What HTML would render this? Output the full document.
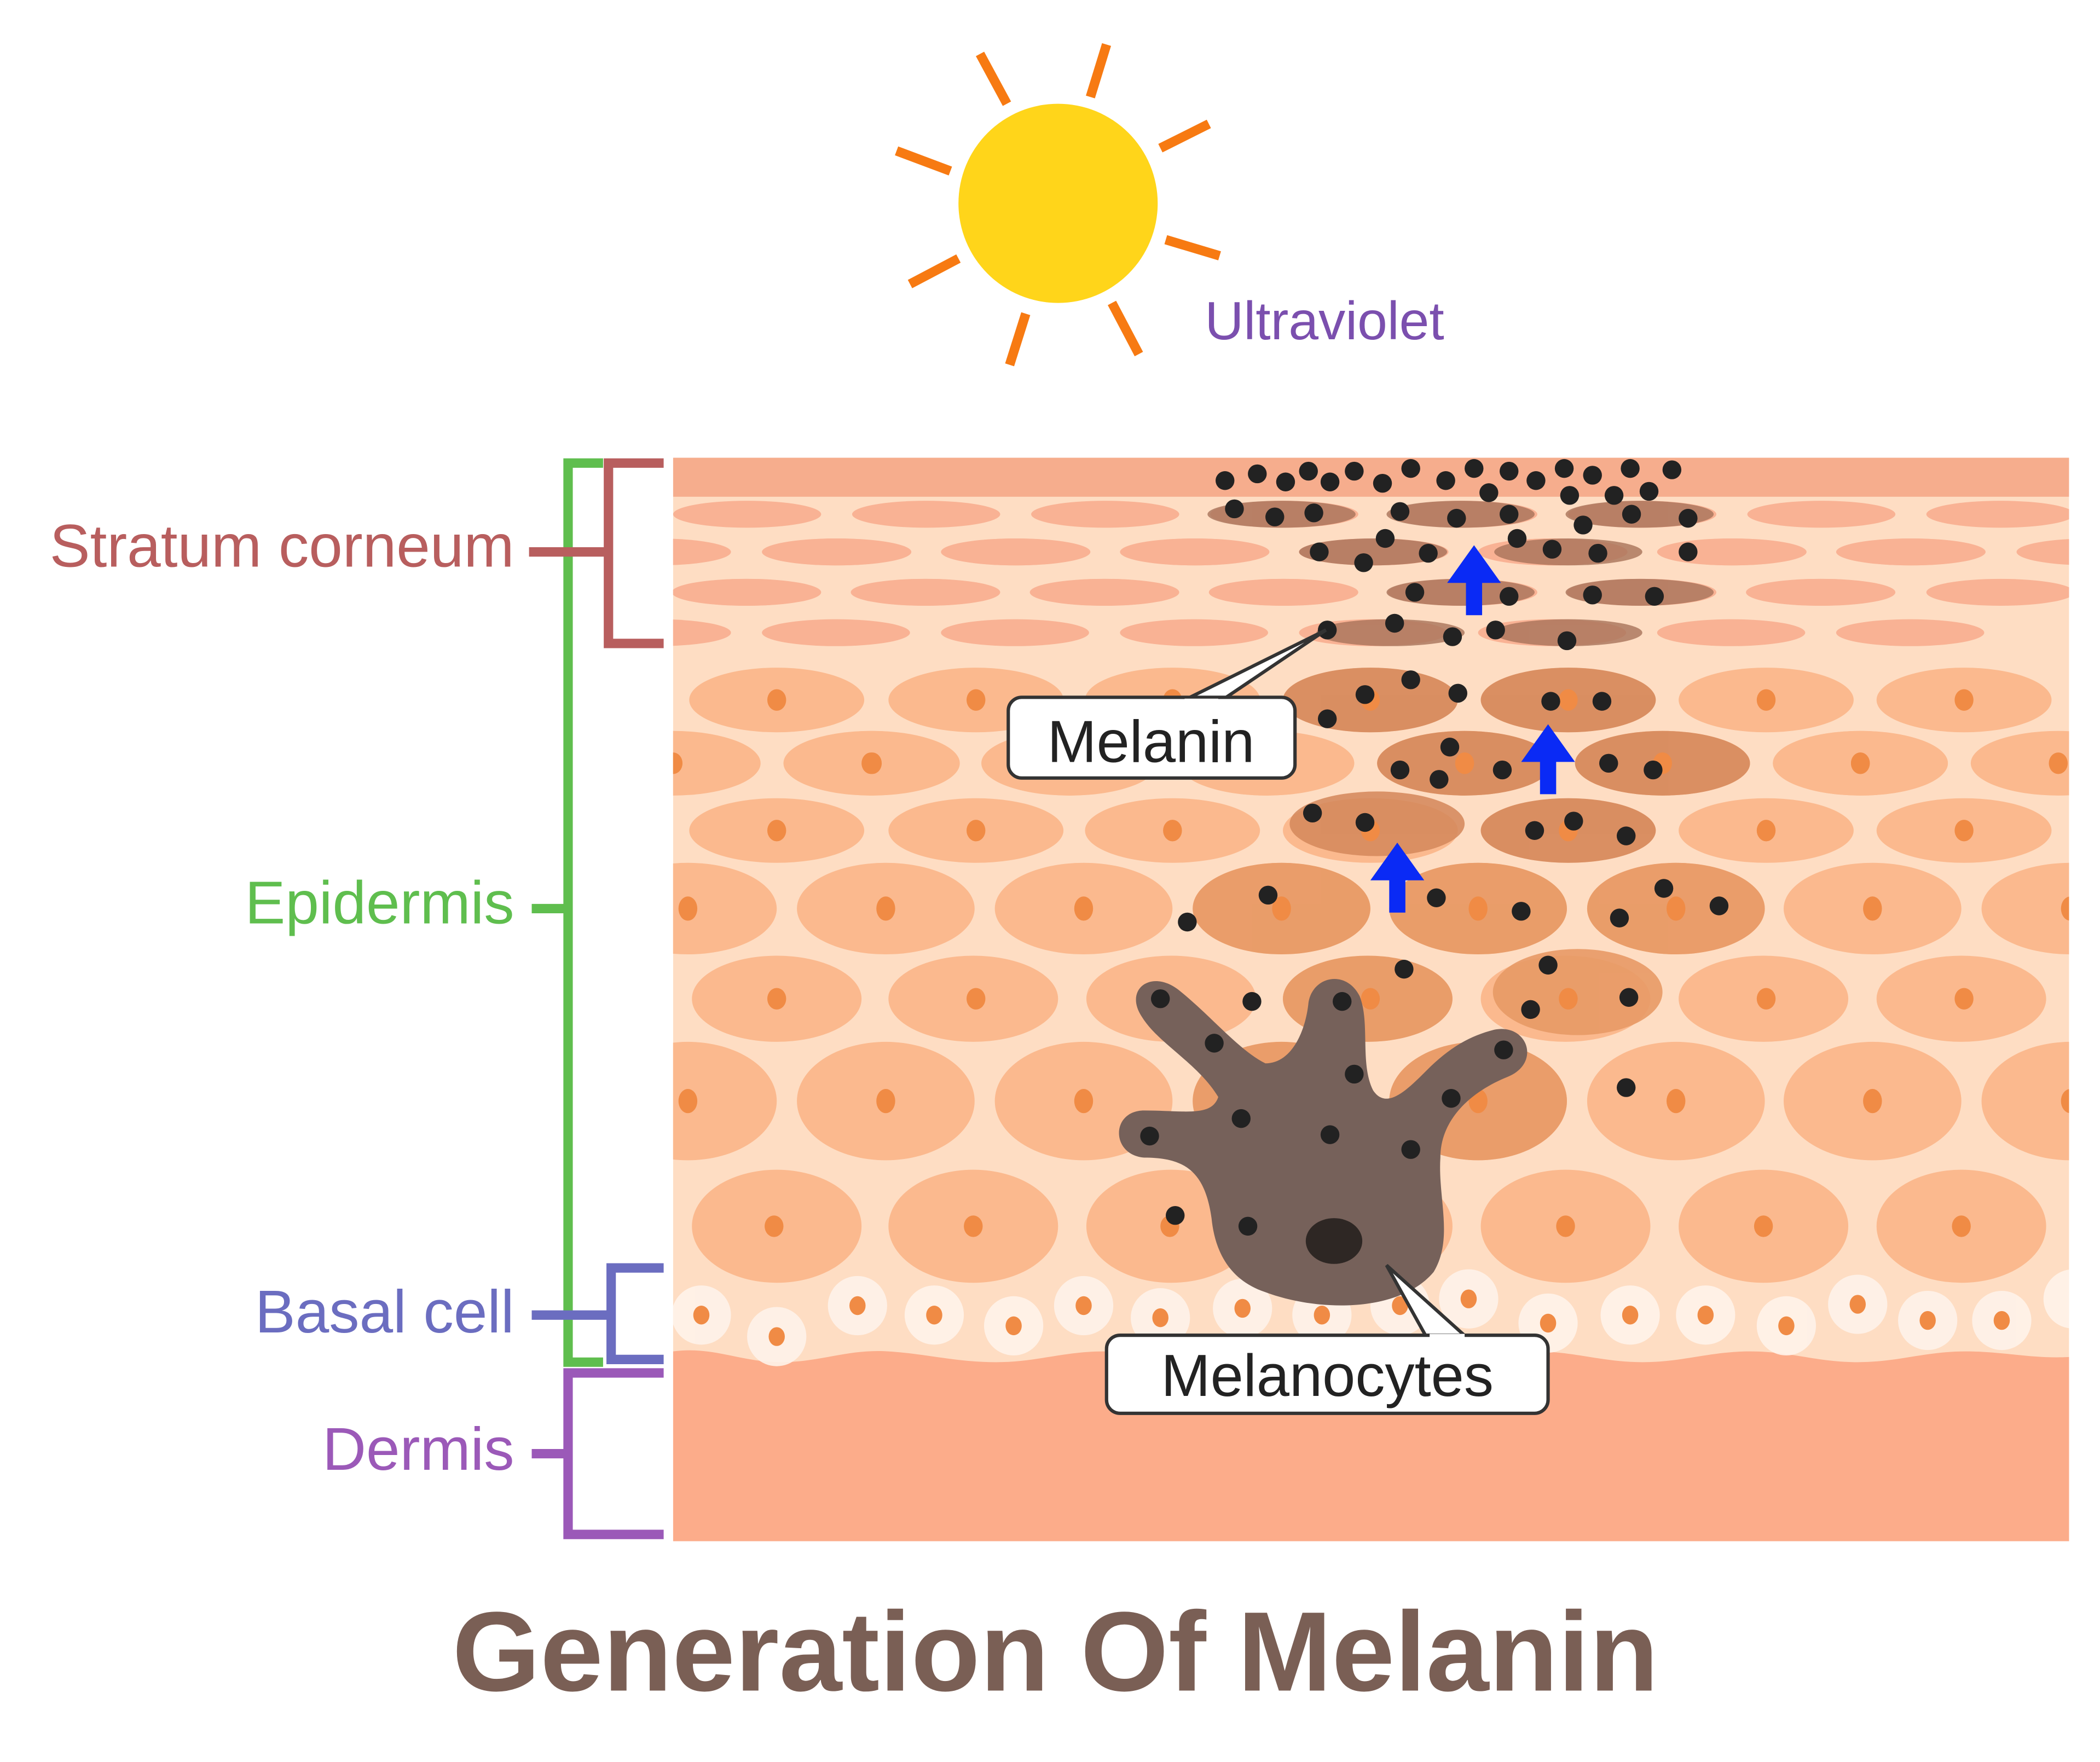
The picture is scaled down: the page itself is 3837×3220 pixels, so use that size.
<!DOCTYPE html>
<html><head><meta charset="utf-8"><style>html,body{margin:0;padding:0;background:#fff}svg{display:block}</style></head>
<body>
<svg width="3837" height="3220" viewBox="0 0 1560 1309" xmlns="http://www.w3.org/2000/svg" font-family="Liberation Sans, sans-serif">
<rect width="1560" height="1309" fill="#fff"/>
<!-- sun -->
<g stroke="#F77A12" stroke-width="7">
<line x1="728" y1="40" x2="748" y2="77"/><line x1="822" y1="33" x2="810" y2="72"/>
<line x1="862" y1="110" x2="898" y2="92"/><line x1="866" y1="178" x2="906" y2="190"/>
<line x1="826" y1="225" x2="846" y2="263"/><line x1="762" y1="233" x2="750" y2="271"/>
<line x1="712" y1="192" x2="676" y2="211"/><line x1="666" y1="112" x2="706" y2="127"/>
</g>
<circle cx="786" cy="151" r="74" fill="#FFD51A"/>
<text x="895" y="252" font-size="40" fill="#7B4FAE">Ultraviolet</text>
<!-- skin -->
<clipPath id="c"><rect x="500" y="340" width="1037" height="805"/></clipPath>
<g clip-path="url(#c)">
<rect x="500" y="340" width="1037" height="805" fill="#FEDDC3"/>
<rect x="500" y="340" width="1037" height="29" fill="#F6AD8D"/>
<g fill="#F9B294">
<g id="sr1"><ellipse cx="555" cy="382" rx="55" ry="10"/><ellipse cx="688" cy="382" rx="55" ry="10"/><ellipse cx="821" cy="382" rx="55" ry="10"/><ellipse cx="954" cy="382" rx="55" ry="10"/><ellipse cx="1087" cy="382" rx="55" ry="10"/><ellipse cx="1220" cy="382" rx="55" ry="10"/><ellipse cx="1353" cy="382" rx="55" ry="10"/><ellipse cx="1486" cy="382" rx="55" ry="10"/></g>
<use href="#sr1" x="-67" y="28"/><use href="#sr1" x="0" y="58"/><use href="#sr1" x="-67" y="88"/><use href="#sr1" x="67" y="28"/><use href="#sr1" x="-134" y="58"/>
</g>
<g fill="#A8735A" opacity="0.8">
<ellipse cx="952" cy="382" rx="55" ry="10"/><ellipse cx="1085" cy="382" rx="55" ry="10"/><ellipse cx="1218" cy="382" rx="55" ry="10"/>
<ellipse cx="1020" cy="410" rx="55" ry="10"/><ellipse cx="1165" cy="410" rx="55" ry="10"/>
<ellipse cx="1085" cy="440" rx="55" ry="10"/><ellipse cx="1218" cy="440" rx="55" ry="10"/>
<ellipse cx="1033" cy="470" rx="55" ry="10"/><ellipse cx="1165" cy="470" rx="55" ry="10"/>
</g>
<g fill="#FBB98E">
<g id="r1"><ellipse cx="577" cy="520" rx="65" ry="24"/><ellipse cx="725" cy="520" rx="65" ry="24"/><ellipse cx="871" cy="520" rx="65" ry="24"/><ellipse cx="1018" cy="520" rx="65" ry="24"/><ellipse cx="1165" cy="520" rx="65" ry="24"/><ellipse cx="1312" cy="520" rx="65" ry="24"/><ellipse cx="1459" cy="520" rx="65" ry="24"/></g>
<use href="#r1" x="-77" y="47"/><use href="#r1" x="70" y="47"/><use href="#r1" x="0" y="97"/>
<ellipse cx="511" cy="675" rx="66" ry="34"/><ellipse cx="658" cy="675" rx="66" ry="34"/><ellipse cx="805" cy="675" rx="66" ry="34"/><ellipse cx="952" cy="675" rx="66" ry="34"/><ellipse cx="1098" cy="675" rx="66" ry="34"/><ellipse cx="1245" cy="675" rx="66" ry="34"/><ellipse cx="1391" cy="675" rx="66" ry="34"/><ellipse cx="1538" cy="675" rx="66" ry="34"/>
<ellipse cx="577" cy="742" rx="63" ry="32"/><ellipse cx="723" cy="742" rx="63" ry="32"/><ellipse cx="870" cy="742" rx="63" ry="32"/><ellipse cx="1016" cy="742" rx="63" ry="32"/><ellipse cx="1163" cy="742" rx="63" ry="32"/><ellipse cx="1310" cy="742" rx="63" ry="32"/><ellipse cx="1457" cy="742" rx="63" ry="32"/>
<ellipse cx="511" cy="818" rx="66" ry="44"/><ellipse cx="658" cy="818" rx="66" ry="44"/><ellipse cx="805" cy="818" rx="66" ry="44"/><ellipse cx="952" cy="818" rx="66" ry="44"/><ellipse cx="1098" cy="818" rx="66" ry="44"/><ellipse cx="1245" cy="818" rx="66" ry="44"/><ellipse cx="1391" cy="818" rx="66" ry="44"/><ellipse cx="1538" cy="818" rx="66" ry="44"/>
<ellipse cx="577" cy="911" rx="63" ry="42"/><ellipse cx="723" cy="911" rx="63" ry="42"/><ellipse cx="870" cy="911" rx="63" ry="42"/><ellipse cx="1016" cy="911" rx="63" ry="42"/><ellipse cx="1163" cy="911" rx="63" ry="42"/><ellipse cx="1310" cy="911" rx="63" ry="42"/><ellipse cx="1457" cy="911" rx="63" ry="42"/>
</g>
<g fill="#D4875A" opacity="0.85">
<ellipse cx="1018" cy="520" rx="65" ry="24"/><ellipse cx="1165" cy="520" rx="65" ry="24"/>
<ellipse cx="1088" cy="567" rx="65" ry="24"/><ellipse cx="1235" cy="567" rx="65" ry="24"/>
<ellipse cx="1023" cy="612" rx="65" ry="24"/><ellipse cx="1165" cy="617" rx="65" ry="24"/>
</g>
<g fill="#E89A66" opacity="0.9">
<ellipse cx="952" cy="675" rx="66" ry="34"/><ellipse cx="1098" cy="675" rx="66" ry="34"/><ellipse cx="1245" cy="675" rx="66" ry="34"/>
<ellipse cx="1016" cy="742" rx="63" ry="32"/><ellipse cx="1172" cy="737" rx="63" ry="32"/>
<ellipse cx="952" cy="818" rx="66" ry="44"/><ellipse cx="1098" cy="818" rx="66" ry="44"/>
</g>
<g fill="#F08B45">
<g id="n1"><ellipse cx="577" cy="520" rx="7" ry="8"/><ellipse cx="725" cy="520" rx="7" ry="8"/><ellipse cx="871" cy="520" rx="7" ry="8"/><ellipse cx="1018" cy="520" rx="7" ry="8"/><ellipse cx="1165" cy="520" rx="7" ry="8"/><ellipse cx="1312" cy="520" rx="7" ry="8"/><ellipse cx="1459" cy="520" rx="7" ry="8"/></g>
<use href="#n1" x="-77" y="47"/><use href="#n1" x="70" y="47"/><use href="#n1" x="0" y="97"/>
<g id="n4"><ellipse cx="511" cy="675" rx="7" ry="9"/><ellipse cx="658" cy="675" rx="7" ry="9"/><ellipse cx="805" cy="675" rx="7" ry="9"/><ellipse cx="952" cy="675" rx="7" ry="9"/><ellipse cx="1098" cy="675" rx="7" ry="9"/><ellipse cx="1245" cy="675" rx="7" ry="9"/><ellipse cx="1391" cy="675" rx="7" ry="9"/><ellipse cx="1538" cy="675" rx="7" ry="9"/></g>
<use href="#n4" x="0" y="143"/>
<use href="#n1" x="0" y="222"/><use href="#n1" x="-2" y="391"/>
</g>
<!-- dermis -->
<path d="M500,1004 C530,1000 550,1012 580,1012 C610,1012 630,1002 660,1004 C690,1006 710,1012 740,1012 C770,1012 790,1004 820,1004 C850,1004 870,1012 900,1012 C930,1012 950,1004 980,1004 C1010,1004 1030,1012 1060,1012 C1090,1012 1110,1004 1140,1004 C1170,1004 1190,1012 1220,1012 C1250,1012 1270,1004 1300,1004 C1330,1004 1350,1012 1380,1012 C1410,1012 1430,1004 1460,1004 C1490,1004 1510,1010 1540,1008 V1145 H500Z" fill="#FCAC8A"/>
<g fill="#FFF3EA" opacity="0.9">
<circle cx="521" cy="977" r="22"/><circle cx="577" cy="993" r="22"/><circle cx="637" cy="970" r="22"/><circle cx="694" cy="977" r="22"/><circle cx="753" cy="985" r="22"/><circle cx="805" cy="970" r="22"/><circle cx="862" cy="979" r="22"/><circle cx="923" cy="972" r="22"/><circle cx="982" cy="977" r="22"/><circle cx="1040" cy="970" r="22"/><circle cx="1091" cy="965" r="22"/><circle cx="1150" cy="983" r="22"/><circle cx="1211" cy="977" r="22"/><circle cx="1267" cy="977" r="22"/><circle cx="1327" cy="985" r="22"/><circle cx="1380" cy="969" r="22"/><circle cx="1432" cy="981" r="22"/><circle cx="1487" cy="981" r="22"/><circle cx="1540" cy="965" r="22"/>
</g>
<g fill="#F08B45">
<ellipse cx="521" cy="977" rx="6" ry="7"/><ellipse cx="577" cy="993" rx="6" ry="7"/><ellipse cx="637" cy="970" rx="6" ry="7"/><ellipse cx="694" cy="977" rx="6" ry="7"/><ellipse cx="753" cy="985" rx="6" ry="7"/><ellipse cx="805" cy="970" rx="6" ry="7"/><ellipse cx="862" cy="979" rx="6" ry="7"/><ellipse cx="923" cy="972" rx="6" ry="7"/><ellipse cx="982" cy="977" rx="6" ry="7"/><ellipse cx="1040" cy="970" rx="6" ry="7"/><ellipse cx="1091" cy="965" rx="6" ry="7"/><ellipse cx="1150" cy="983" rx="6" ry="7"/><ellipse cx="1211" cy="977" rx="6" ry="7"/><ellipse cx="1267" cy="977" rx="6" ry="7"/><ellipse cx="1327" cy="985" rx="6" ry="7"/><ellipse cx="1380" cy="969" rx="6" ry="7"/><ellipse cx="1432" cy="981" rx="6" ry="7"/><ellipse cx="1487" cy="981" rx="6" ry="7"/>
</g>
<!-- melanocyte -->
<path d="M900,905 C895,870 880,860 850,860 C825,858 825,825 850,825 C880,825 900,830 905,815 C890,790 860,775 848,755 C835,735 855,720 875,735 C900,755 920,780 940,790 C960,790 970,765 972,745 C975,725 1000,720 1010,740 C1018,760 1010,790 1020,810 C1030,825 1045,810 1060,795 C1075,780 1090,770 1110,765 C1135,760 1145,790 1120,800 C1095,810 1070,830 1070,860 C1068,890 1080,920 1065,945 C1040,975 980,975 940,960 C910,950 902,925 900,905Z" fill="#76615A"/>
<ellipse cx="991" cy="922" rx="21" ry="17" fill="#2e2724"/>
<g fill="#222">
<circle cx="910" cy="357" r="7"/><circle cx="934" cy="352" r="7"/><circle cx="955" cy="358" r="7"/><circle cx="972" cy="350" r="7"/><circle cx="988" cy="358" r="7"/><circle cx="1006" cy="350" r="7"/><circle cx="1027" cy="359" r="7"/><circle cx="1048" cy="348" r="7"/><circle cx="1074" cy="357" r="7"/><circle cx="1095" cy="348" r="7"/><circle cx="1106" cy="366" r="7"/><circle cx="1121" cy="350" r="7"/><circle cx="1141" cy="357" r="7"/><circle cx="1162" cy="348" r="7"/><circle cx="1183" cy="353" r="7"/><circle cx="1211" cy="348" r="7"/><circle cx="1166" cy="368" r="7"/><circle cx="1199" cy="368" r="7"/><circle cx="1225" cy="365" r="7"/><circle cx="1242" cy="349" r="7"/>
<circle cx="917" cy="378" r="7"/><circle cx="947" cy="384" r="7"/><circle cx="976" cy="381" r="7"/><circle cx="1040" cy="380" r="7"/><circle cx="1082" cy="385" r="7"/><circle cx="1121" cy="382" r="7"/><circle cx="1176" cy="390" r="7"/><circle cx="1212" cy="382" r="7"/><circle cx="1254" cy="385" r="7"/>
<circle cx="980" cy="410" r="7"/><circle cx="1013" cy="418" r="7"/><circle cx="1029" cy="400" r="7"/><circle cx="1061" cy="411" r="7"/><circle cx="1127" cy="400" r="7"/><circle cx="1153" cy="408" r="7"/><circle cx="1187" cy="411" r="7"/><circle cx="1254" cy="410" r="7"/>
<circle cx="1051" cy="440" r="7"/><circle cx="1121" cy="443" r="7"/><circle cx="1183" cy="442" r="7"/><circle cx="1229" cy="443" r="7"/>
<circle cx="986" cy="468" r="7"/><circle cx="1036" cy="463" r="7"/><circle cx="1079" cy="473" r="7"/><circle cx="1111" cy="468" r="7"/><circle cx="1164" cy="476" r="7"/>
<circle cx="1048" cy="505" r="7"/><circle cx="1014" cy="516" r="7"/><circle cx="1083" cy="515" r="7"/><circle cx="986" cy="534" r="7"/><circle cx="1152" cy="521" r="7"/><circle cx="1190" cy="521" r="7"/>
<circle cx="1077" cy="555" r="7"/><circle cx="1040" cy="572" r="7"/><circle cx="1069" cy="579" r="7"/><circle cx="1116" cy="572" r="7"/><circle cx="1195" cy="567" r="7"/><circle cx="1228" cy="572" r="7"/>
<circle cx="975" cy="604" r="7"/><circle cx="1014" cy="611" r="7"/><circle cx="1140" cy="617" r="7"/><circle cx="1169" cy="610" r="7"/><circle cx="1208" cy="621" r="7"/>
<circle cx="942" cy="665" r="7"/><circle cx="882" cy="685" r="7"/><circle cx="1067" cy="667" r="7"/><circle cx="1130" cy="677" r="7"/><circle cx="1236" cy="660" r="7"/><circle cx="1277" cy="673" r="7"/><circle cx="1203" cy="682" r="7"/>
<circle cx="1043" cy="720" r="7"/><circle cx="1150" cy="717" r="7"/><circle cx="1137" cy="750" r="7"/><circle cx="1210" cy="741" r="7"/><circle cx="930" cy="744" r="7"/><circle cx="862" cy="742" r="7"/><circle cx="997" cy="744" r="7"/>
<circle cx="902" cy="775" r="7"/><circle cx="1006" cy="798" r="7"/><circle cx="1117" cy="780" r="7"/><circle cx="1208" cy="808" r="7"/><circle cx="1078" cy="816" r="7"/>
<circle cx="922" cy="831" r="7"/><circle cx="854" cy="844" r="7"/><circle cx="988" cy="843" r="7"/><circle cx="1048" cy="854" r="7"/><circle cx="873" cy="903" r="7"/><circle cx="927" cy="911" r="7"/>
</g>
<g fill="#0A2AF5">
<path d="M1089,457 h12 v-24 h14 l-20,-28 l-20,28 h14z"/>
<path d="M1144,590 h12 v-24 h14 l-20,-28 l-20,28 h14z"/>
<path d="M1032,678 h12 v-24 h14 l-20,-28 l-20,28 h14z"/>
</g>
</g>
<!-- callouts -->
<path d="M880,520 L985,468 L905,522" fill="#fff" stroke="#333" stroke-width="2.5"/>
<rect x="749" y="518" width="213" height="60" rx="10" fill="#fff" stroke="#333" stroke-width="2.5"/>
<path d="M880,521 L905,521" stroke="#fff" stroke-width="4"/>
<text x="855" y="566" font-size="44" fill="#222" text-anchor="middle">Melanin</text>
<path d="M1060,994 L1030,940 L1090,994" fill="#fff" stroke="#333" stroke-width="2.5"/>
<rect x="822" y="992" width="328" height="58" rx="10" fill="#fff" stroke="#333" stroke-width="2.5"/>
<path d="M1062,993 L1088,993" stroke="#fff" stroke-width="4"/>
<text x="986" y="1037" font-size="44" fill="#222" text-anchor="middle">Melanocytes</text>
<!-- brackets -->
<g fill="none" stroke-width="7">
<path d="M448,344 H422 V1012 H448" stroke="#5FBE4E"/><path d="M395,675 H422" stroke="#5FBE4E"/>
<path d="M493,344 H452 V478 H493" stroke="#B85E5E"/><path d="M393,410 H452" stroke="#B85E5E"/>
<path d="M493,942 H454 V1010 H493" stroke="#6B6DC0"/><path d="M395,977 H454" stroke="#6B6DC0"/>
<path d="M493,1020 H422 V1140 H493" stroke="#9B59B8"/><path d="M395,1080 H422" stroke="#9B59B8"/>
</g>
<g font-size="45" text-anchor="end">
<text x="382" y="421" fill="#B85E5E">Stratum corneum</text>
<text x="382" y="686" fill="#5FBE4E">Epidermis</text>
<text x="382" y="990" fill="#6B6DC0">Basal cell</text>
<text x="382" y="1092" fill="#9B59B8">Dermis</text>
</g>
<text x="784" y="1256" font-size="84" font-weight="bold" fill="#7A5F55" text-anchor="middle">Generation Of Melanin</text>
</svg>
</body></html>
